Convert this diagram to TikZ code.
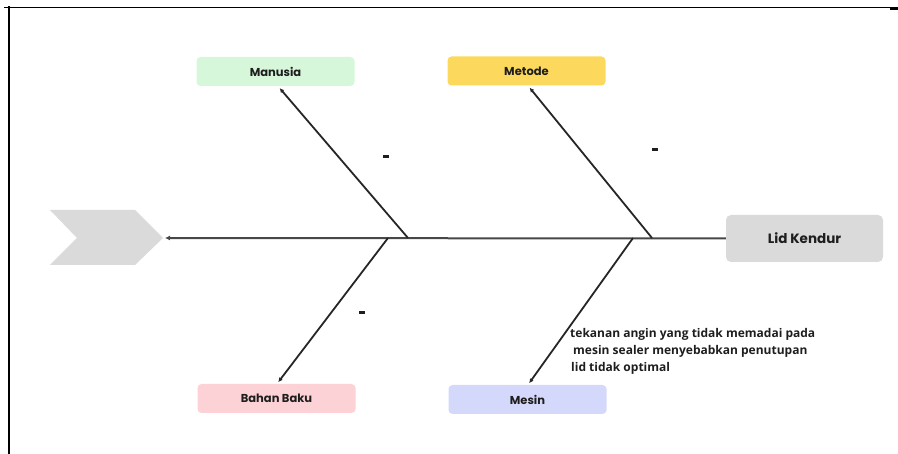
\documentclass[tikz,border=0pt]{standalone}
\usepackage{fontspec}
\setmainfont{Poppins}
\newfontfamily\notefont{Open Sans}
\usetikzlibrary{arrows.meta}
\definecolor{ink}{HTML}{1E1E1E}
\definecolor{bone}{HTML}{262626}
\definecolor{cGreen}{HTML}{D6F7D9}
\definecolor{cYellow}{HTML}{FCD85C}
\definecolor{cPink}{HTML}{FCD2D6}
\definecolor{cBlue}{HTML}{D4D8FB}
\definecolor{cGray}{HTML}{DADADA}
\tikzset{
  catbox/.style={rounded corners=4pt, minimum width=158pt, minimum height=29pt,
    inner sep=0pt, text=ink, font=\fontsize{11.5}{13}\selectfont\bfseries},
  headbox/.style={rounded corners=5pt, fill=cGray, minimum width=157pt, minimum height=47pt,
    inner sep=0pt, text=ink, font=\fontsize{13.5}{15}\selectfont\bfseries},
  bonestyle/.style={draw=bone, line width=1.8pt, -{Latex[length=4.5pt,width=4.5pt]}},
  spinestyle/.style={draw=bone!85!white, line width=2pt, -{Latex[length=5pt,width=5pt]}},
  dashmark/.style={fill=ink, minimum width=5.5pt, minimum height=3pt, inner sep=0pt},
  frameline/.style={draw=black, line cap=rect}
}
\begin{document}
\begin{tikzpicture}[x=1pt,y=-1pt]
\useasboundingbox (0,0) rectangle (898,454);
% page frame
\draw[frameline, line width=1.6pt] (5,7.5) -- (898,7.5);
\draw[frameline, line width=3pt] (891,8.2) -- (898,8.2);
\draw[frameline, line width=2pt] (9,7) -- (9,454);

% tail chevron
\fill[cGray] (50,210) -- (135,210) -- (163,238) -- (135,265) -- (50,265) -- (77,238) -- cycle;
\coordinate (tail) at (165,238);

% effect
\node[headbox] (head) at (804.5,238.5) {Lid Kendur};

% categories
\node[catbox, fill=cGreen]  (manusia) at (275.5,71.5)  {Manusia};
\node[catbox, fill=cYellow] (metode)  at (526.5,71)    {Metode};
\node[catbox, fill=cPink]   (bahan)   at (276.5,398.5) {Bahan Baku};
\node[catbox, fill=cBlue]   (mesin)   at (527.5,399.5) {Mesin};

% joints on the spine
\coordinate (jA) at (408,238);
\coordinate (jB) at (652,238);
\coordinate (jC) at (388,238);
\coordinate (jD) at (633,238);

% spine and bones
\draw[spinestyle] (head.west) -- (tail);
\draw[bonestyle, shorten >=2.5pt] (jA) -- ([xshift=2.5pt]manusia.south);
\draw[bonestyle, shorten >=2.5pt] (jB) -- ([xshift=1.5pt]metode.south);
\draw[bonestyle, shorten >=2pt] (jC) -- ([xshift=0.5pt]bahan.north);
\draw[bonestyle, shorten >=2pt] (jD) -- ([xshift=0.5pt]mesin.north);

% cause entries
\node[dashmark] (dA) at (386,157) {};
\node[dashmark] (dB) at (655,150) {};
\node[dashmark] (dC) at (362,313) {};
\node[anchor=north west, align=left, inner sep=0pt, text=ink,
      font=\notefont\fontsize{12}{17}\selectfont\bfseries] (note) at (570,328.5)
  {tekanan angin yang tidak memadai pada\\
   \hspace{3pt}mesin sealer menyebabkan penutupan\\
   \hspace{1pt}lid tidak optimal};
\end{tikzpicture}
\end{document}
